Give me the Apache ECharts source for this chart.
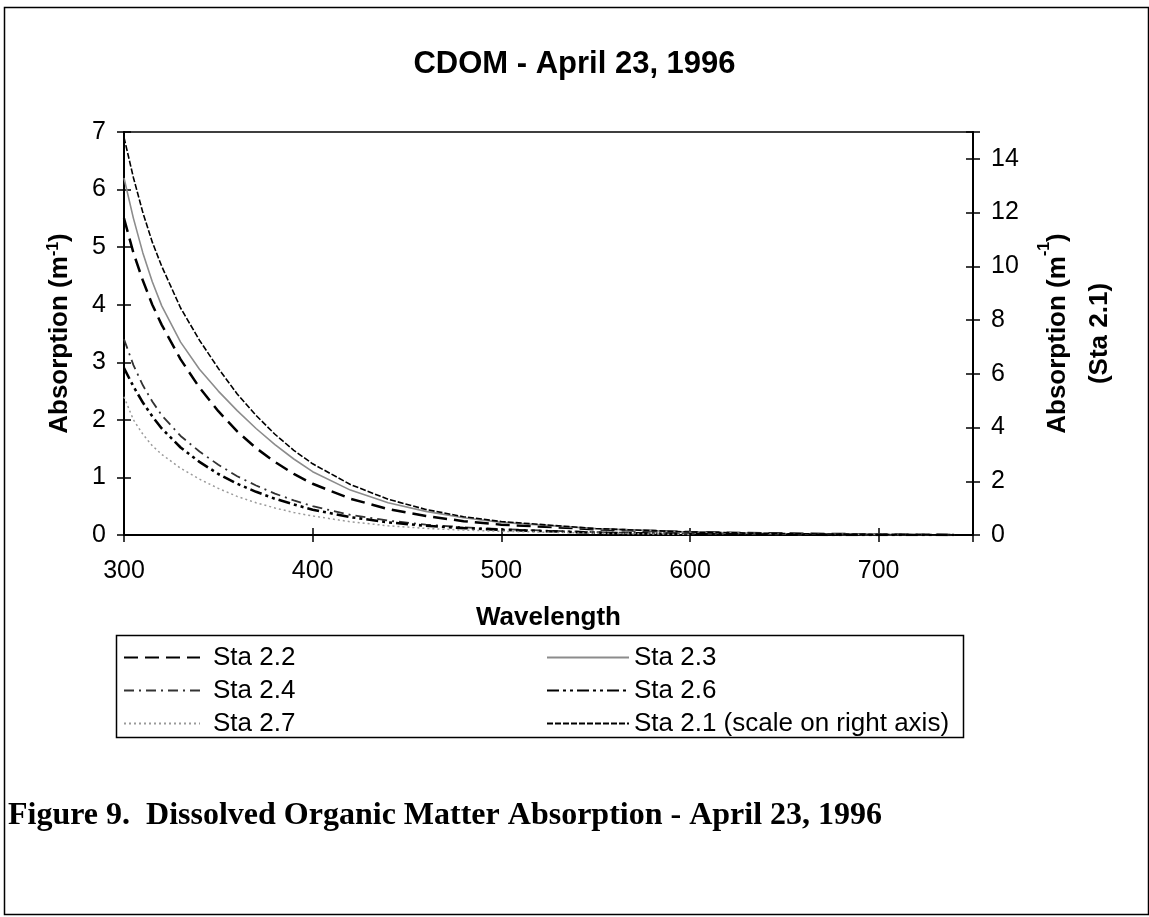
<!DOCTYPE html>
<html>
<head>
<meta charset="utf-8">
<script src="https://cdn.jsdelivr.net/npm/echarts@6/dist/echarts.min.js"></script>
<style>
html,body{margin:0;padding:0;background:#fff;}
#chart{width:1149px;height:917px;}
</style>
</head>
<body>
<div id="chart"></div>
<script>
// Wavelength grid (nm)
var wavelengths = [300,305,310,315,320,330,340,350,360,370,380,390,400,420,440,460,480,500,550,600,650,700,740];
// Absorption (m^-1), left axis
var sta22 = [5.5,4.9,4.42,4.0,3.65,3.05,2.56,2.15,1.8,1.51,1.27,1.06,0.89,0.63,0.45,0.33,0.24,0.18,0.1,0.05,0.025,0.01,0];
var sta23 = [6.2,5.5,4.9,4.4,3.98,3.35,2.88,2.5,2.16,1.85,1.57,1.32,1.1,0.78,0.56,0.41,0.3,0.22,0.11,0.05,0.02,0.01,0];
var sta24 = [3.4,2.95,2.6,2.32,2.08,1.72,1.45,1.22,1.02,0.86,0.72,0.6,0.5,0.35,0.25,0.18,0.135,0.1,0.05,0.02,0.01,0,0];
var sta26 = [2.9,2.58,2.3,2.06,1.85,1.52,1.27,1.06,0.89,0.75,0.63,0.53,0.44,0.31,0.22,0.16,0.12,0.09,0.04,0.015,0.005,0,0];
var sta27 = [2.4,2.0,1.75,1.55,1.4,1.16,0.97,0.81,0.67,0.56,0.47,0.39,0.33,0.23,0.16,0.115,0.085,0.065,0.03,0.01,null,null,null];
// Sta 2.1, right axis
var sta21 = [14.8,13.3,12.0,10.9,10.0,8.45,7.25,6.2,5.25,4.45,3.75,3.15,2.65,1.88,1.33,0.95,0.68,0.5,0.24,0.11,0.05,0.02,0];

var xTicks = [300,400,500,600,700];
var leftTicks = [0,1,2,3,4,5,6,7];
var rightTicks = [0,2,4,6,8,10,12,14];

function pairs(vals){
  var out = [];
  for (var i=0;i<wavelengths.length;i++){ if (vals[i]!==null) out.push([wavelengths[i], vals[i]]); }
  return out;
}

var FONT = 'Liberation Sans, Arial, Helvetica, sans-serif';
var chart = echarts.init(document.getElementById('chart'), null, {renderer:'canvas'});

function mkSeries(name, vals, yIdx, color, width, dash){
  return {
    name: name, type: 'line', yAxisIndex: yIdx, xAxisIndex: 0,
    data: pairs(vals), symbol: 'none', showSymbol: false,
    smooth: false,
    lineStyle: {color: color, width: width, type: dash},
    itemStyle: {color: color},
    emphasis: {disabled: true}, silent: true
  };
}

var axisLineStyle = {color:'#000', width:2};

var option = {
  animation: false,
  backgroundColor: '#fff',
  title: {
    text: 'CDOM - April 23, 1996',
    left: 'center', top: 44,
    textStyle: {fontFamily: FONT, fontSize: 31, fontWeight: 'bold', color: '#000'}
  },
  grid: {left: 124, right: 176, top: 132, bottom: 382, show: true, borderColor: '#000', borderWidth: 1.5, backgroundColor: 'transparent'},
  xAxis: [{
    type: 'value', min: 300, max: 750, interval: 100,
    name: 'Wavelength', nameLocation: 'middle', nameGap: 70,
    nameTextStyle: {fontFamily: FONT, fontSize: 26, fontWeight: 'bold', color: '#000'},
    axisLine: {show: true, lineStyle: axisLineStyle},
    axisTick: {show: true, length: 7, lineStyle: {color:'#000', width: 1.5}},
    axisLabel: {margin: 24, fontFamily: FONT, fontSize: 25, color: '#000',
      formatter: function(v){ return xTicks.indexOf(v) >= 0 ? String(v) : ''; }},
    splitLine: {show: false}
  },{
    type: 'value', min: 300, max: 750, interval: 100, position: 'bottom',
    axisLine: {show: false}, axisLabel: {show: false}, splitLine: {show: false},
    axisTick: {show: true, inside: true, length: 7, lineStyle: {color:'#000', width: 1.5}}
  }],
  yAxis: [{
    type: 'value', min: 0, max: 7, interval: 1, position: 'left',
    name: '{n|Absorption (m}{s|-1}{n|)}', nameLocation: 'middle', nameGap: 50, nameRotate: 90,
    nameTextStyle: {rich: {
      n: {fontFamily: FONT, fontSize: 26, fontWeight: 'bold', color: '#000'},
      s: {fontFamily: FONT, fontSize: 16, fontWeight: 'bold', color: '#000', verticalAlign: 'top', padding: [0,0,12,0]}
    }},
    axisLine: {show: true, lineStyle: axisLineStyle},
    axisTick: {show: true, length: 7, lineStyle: {color:'#000', width: 1.5}},
    axisLabel: {margin: 18, fontFamily: FONT, fontSize: 25, color: '#000',
      formatter: function(v){ return leftTicks.indexOf(v) >= 0 ? String(v) : ''; }},
    splitLine: {show: false}
  },{
    type: 'value', min: 0, max: 15, interval: 2, position: 'right',
    name: '{n|Absorption (m}{s|-1}{n|)}\n{n|(Sta 2.1)}', nameLocation: 'middle', nameGap: 64, nameRotate: 90,
    nameTextStyle: {lineHeight: 42, rich: {
      n: {fontFamily: FONT, fontSize: 26, fontWeight: 'bold', color: '#000', lineHeight: 42},
      s: {fontFamily: FONT, fontSize: 16, fontWeight: 'bold', color: '#000', verticalAlign: 'top', padding: [0,0,12,0], lineHeight: 42}
    }},
    axisLine: {show: true, lineStyle: axisLineStyle},
    axisTick: {show: true, length: 7, lineStyle: {color:'#000', width: 1.5}},
    axisLabel: {margin: 18, fontFamily: FONT, fontSize: 25, color: '#000',
      formatter: function(v){ return rightTicks.indexOf(v) >= 0 ? String(v) : ''; }},
    splitLine: {show: false}
  },{
    type: 'value', min: 0, max: 7, interval: 1, position: 'left',
    axisLine: {show: false}, axisLabel: {show: false}, splitLine: {show: false},
    axisTick: {show: true, inside: true, length: 7, lineStyle: {color:'#000', width: 1.5}}
  },{
    type: 'value', min: 0, max: 15, interval: 2, position: 'right',
    axisLine: {show: false}, axisLabel: {show: false}, splitLine: {show: false},
    axisTick: {show: true, inside: true, length: 7, lineStyle: {color:'#000', width: 1.5}}
  }],
  legend: [{
    orient: 'vertical', left: 118, top: 636, itemGap: 0, itemWidth: 76, itemHeight: 14,
    data: ['Sta 2.2','Sta 2.4','Sta 2.7'],
    itemStyle: {opacity: 0},
    textStyle: {fontFamily: FONT, fontSize: 26, color: '#000', lineHeight: 33, padding: [0,0,0,8]},
    selectedMode: false
  },{
    orient: 'vertical', left: 541, top: 636, itemGap: 0, itemWidth: 82, itemHeight: 14,
    data: ['Sta 2.3','Sta 2.6','Sta 2.1'],
    itemStyle: {opacity: 0},
    formatter: function(n){ return n === 'Sta 2.1' ? 'Sta 2.1 (scale on right axis)' : n; },
    textStyle: {fontFamily: FONT, fontSize: 26, color: '#000', lineHeight: 33, padding: [0,0,0,0]},
    selectedMode: false
  }],
  graphic: [
    {type: 'rect', left: 2, top: 5, shape: {width: 1144, height: 907}, style: {fill: 'none', stroke: '#000', lineWidth: 1.5}, silent: true},
    {type: 'rect', left: 114, top: 633, shape: {width: 847, height: 102}, style: {fill: 'none', stroke: '#000', lineWidth: 1.5}, silent: true, z: 10},
    {type: 'text', left: 8, top: 800, style: {text: 'Figure 9.  Dissolved Organic Matter Absorption - April 23, 1996', fontFamily: 'Liberation Serif, Times New Roman, serif', fontSize: 32, fontWeight: 'bold', fill: '#000'}, silent: true}
  ],
  series: [
    mkSeries('Sta 2.2', sta22, 0, '#000', 2.5, [14, 7]),
    mkSeries('Sta 2.3', sta23, 0, '#8c8c8c', 1.6, 'solid'),
    mkSeries('Sta 2.4', sta24, 0, '#333', 1.8, [10, 5, 2, 5]),
    mkSeries('Sta 2.6', sta26, 0, '#000', 2.6, [12, 4, 3, 4, 3, 4]),
    mkSeries('Sta 2.7', sta27, 0, '#9a9a9a', 1.5, [2, 3]),
    mkSeries('Sta 2.1', sta21, 1, '#000', 1.6, [6, 2])
  ]
};
chart.setOption(option);
</script>
</body>
</html>
